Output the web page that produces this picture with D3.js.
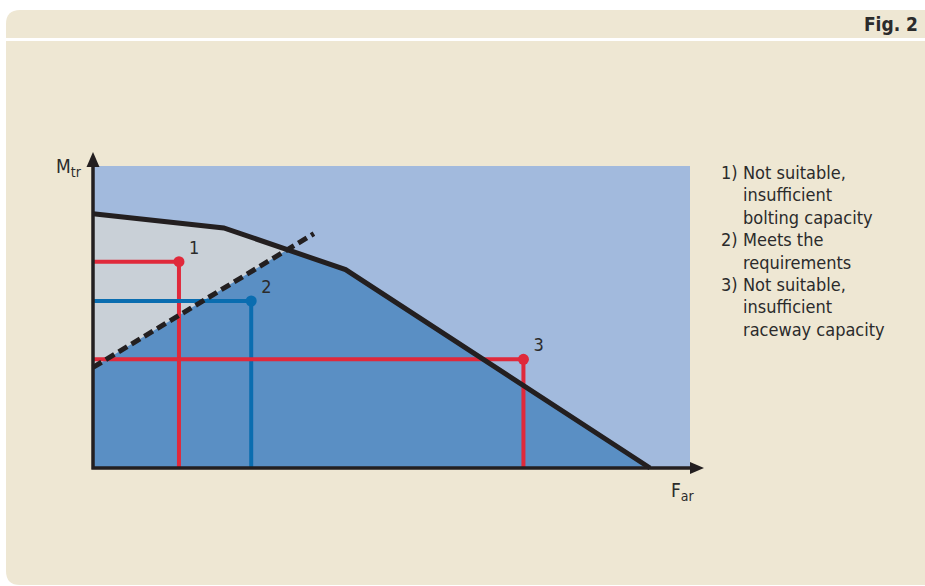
<!DOCTYPE html>
<html>
<head>
<meta charset="utf-8">
<script src="https://cdn.jsdelivr.net/npm/d3@7"></script>
<style>
  html, body { margin: 0; padding: 0; background: #fff; }
  svg { display: block; }
  text { font-family: "DejaVu Sans Condensed", "DejaVu Sans", sans-serif; fill: #2b2b2b; }
</style>
</head>
<body>
<div id="chart"></div>
<script>
// capacity limit (solid black line), in relative units of F_ar / M_tr
const capacity_f = [0, 21.9, 42.3, 93.3];
const capacity_m = [84.2, 79.5, 65.7, 0];

// bolting capacity limit (dashed line)
const bolting_f = [0, 37.0];
const bolting_m = [33.3, 77.6];

// the three load cases
const case_labels = ["1", "2", "3"];
const case_f = [14.4, 26.5, 72.1];
const case_m = [68.3, 55.3, 36.0];
const case_ok = [false, true, false];

const legend_items = [
  ["1)", "Not suitable,", "insufficient", "bolting capacity"],
  ["2)", "Meets the", "requirements"],
  ["3)", "Not suitable,", "insufficient", "raceway capacity"]
];

const WIDTH = 925,
  HEIGHT = 586,
  COLOR_PANEL = "#eee7d3",
  COLOR_LIGHT = "#a2badd",
  COLOR_MID = "#5a8fc4",
  COLOR_GREY = "#c9d0d7",
  COLOR_RED = "#e0293b",
  COLOR_BLUE = "#0a6db0",
  COLOR_BLACK = "#231f20";

var svg = d3
  .select("#chart")
  .append("svg")
  .attr("width", WIDTH)
  .attr("height", HEIGHT);

// panel with rounded left corners
var px = 6, py = 10, pb = 585, r = 14;
svg.append("path")
  .attr("d",
    "M" + WIDTH + "," + py +
    "H" + (px + r) +
    "Q" + px + "," + py + " " + px + "," + (py + r) +
    "V" + (pb - r) +
    "Q" + px + "," + pb + " " + (px + r) + "," + pb +
    "H" + WIDTH + "Z")
  .attr("fill", COLOR_PANEL);

svg.append("rect")
  .attr("x", px).attr("y", 38)
  .attr("width", WIDTH - px).attr("height", 3)
  .attr("fill", "#fff");

svg.append("text")
  .attr("x", 918).attr("y", 31)
  .attr("text-anchor", "end")
  .attr("font-size", 19)
  .attr("font-weight", "bold")
  .text("Fig. 2");

var x = d3.scaleLinear().domain([0, 100]).range([93, 690]);
var y = d3.scaleLinear().domain([0, 100]).range([468, 166]);

var capacity = capacity_f.map(function(f, i) { return [f, capacity_m[i]]; });
var bolting = bolting_f.map(function(f, i) { return [f, bolting_m[i]]; });

function intersect(p1, p2, p3, p4) {
  var d = (p1[0] - p2[0]) * (p3[1] - p4[1]) - (p1[1] - p2[1]) * (p3[0] - p4[0]);
  if (d === 0) return null;
  var t = ((p1[0] - p3[0]) * (p3[1] - p4[1]) - (p1[1] - p3[1]) * (p3[0] - p4[0])) / d;
  if (t < 0 || t > 1) return null;
  return [p1[0] + t * (p2[0] - p1[0]), p1[1] + t * (p2[1] - p1[1])];
}

// where the dashed line meets the capacity line
var cross = null, cross_seg = 0;
for (var i = 0; i < capacity.length - 1 && !cross; i++) {
  cross = intersect(capacity[i], capacity[i + 1], bolting[0], bolting[1]);
  cross_seg = i;
}

var grey_poly = capacity.slice(0, cross_seg + 1).concat([cross, bolting[0]]);
var mid_poly = [[0, 0], bolting[0], cross].concat(capacity.slice(cross_seg + 1));

var line = d3.line()
  .x(function(d) { return x(d[0]); })
  .y(function(d) { return y(d[1]); });

var plot = svg.append("g");

plot.append("rect")
  .attr("x", x(0)).attr("y", y(100))
  .attr("width", x(100) - x(0)).attr("height", y(0) - y(100))
  .attr("fill", COLOR_LIGHT);

plot.append("path").attr("d", line(grey_poly) + "Z").attr("fill", COLOR_GREY);
plot.append("path").attr("d", line(mid_poly) + "Z").attr("fill", COLOR_MID);

// load cases
var cases = plot.selectAll(".case")
  .data(case_labels.map(function(l, i) {
    return { label: l, f: case_f[i], m: case_m[i], ok: case_ok[i] };
  }))
  .enter()
  .append("g")
  .attr("class", "case");

cases.append("path")
  .attr("d", function(d) { return line([[0, d.m], [d.f, d.m], [d.f, 0]]); })
  .attr("fill", "none")
  .attr("stroke", function(d) { return d.ok ? COLOR_BLUE : COLOR_RED; })
  .attr("stroke-width", 4);

cases.append("circle")
  .attr("cx", function(d) { return x(d.f); })
  .attr("cy", function(d) { return y(d.m); })
  .attr("r", 5.5)
  .attr("fill", function(d) { return d.ok ? COLOR_BLUE : COLOR_RED; });

cases.append("text")
  .attr("x", function(d) { return x(d.f) + 10; })
  .attr("y", function(d) { return y(d.m) - 8; })
  .attr("font-size", 18)
  .text(function(d) { return d.label; });

plot.append("path")
  .attr("d", line(capacity))
  .attr("fill", "none")
  .attr("stroke", COLOR_BLACK)
  .attr("stroke-width", 5)
  .attr("stroke-linejoin", "miter");

plot.append("path")
  .attr("d", line(bolting))
  .attr("fill", "none")
  .attr("stroke", COLOR_BLACK)
  .attr("stroke-width", 5)
  .attr("stroke-dasharray", "10,5");

// axes with arrow heads
var axes = svg.append("g");
axes.append("path")
  .attr("d", "M" + x(0) + "," + (y(0) + 1.5) + "V" + 162 + "M" + (x(0) - 1.5) + "," + y(0) + "H" + 693)
  .attr("stroke", COLOR_BLACK)
  .attr("stroke-width", 3.5)
  .attr("fill", "none");
axes.append("path")
  .attr("d", "M" + x(0) + ",152L" + (x(0) + 6.5) + ",167L" + (x(0) - 6.5) + ",167Z")
  .attr("fill", COLOR_BLACK);
axes.append("path")
  .attr("d", "M704," + y(0) + "L690," + (y(0) - 6) + "L690," + (y(0) + 6) + "Z")
  .attr("fill", COLOR_BLACK);

var ylab = axes.append("text").attr("x", 56).attr("y", 173).attr("font-size", 19);
ylab.append("tspan").text("M");
ylab.append("tspan").attr("font-size", 14).attr("dy", 4).text("tr");

var xlab = axes.append("text").attr("x", 671).attr("y", 497).attr("font-size", 19);
xlab.append("tspan").text("F");
xlab.append("tspan").attr("font-size", 14).attr("dy", 4).text("ar");

// legend
var legend = svg.append("g").attr("transform", "translate(721,179)");
var row = 0;
legend_items.forEach(function(item) {
  legend.append("text")
    .attr("x", 0).attr("y", row * 22.4)
    .attr("font-size", 18)
    .text(item[0]);
  item.slice(1).forEach(function(t) {
    legend.append("text")
      .attr("x", 22).attr("y", row * 22.4)
      .attr("font-size", 18)
      .text(t);
    row++;
  });
});
</script>
</body>
</html>
